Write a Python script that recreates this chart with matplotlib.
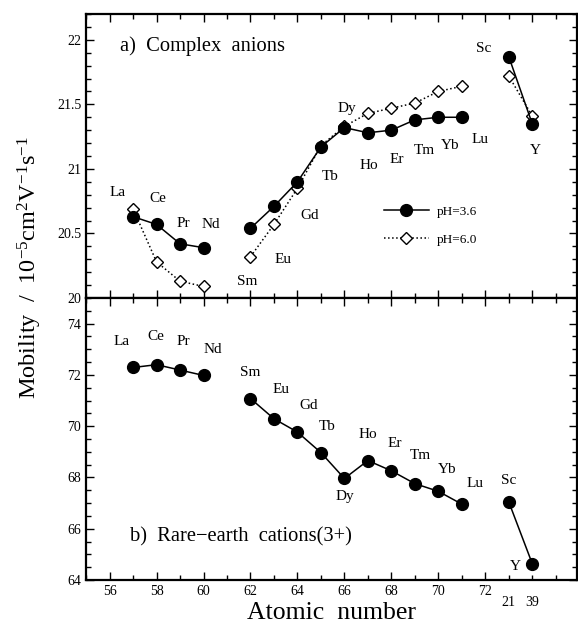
import matplotlib
matplotlib.use("Agg")
import matplotlib.pyplot as plt
from matplotlib.ticker import MultipleLocator

plt.rcParams['font.family'] = ['Liberation Serif', 'DejaVu Serif']
plt.rcParams['mathtext.fontset'] = 'stix'

# atomic-number positions (Sc and Y plotted at 73 and 74)
elements = ['La', 'Ce', 'Pr', 'Nd', 'Sm', 'Eu', 'Gd', 'Tb', 'Dy', 'Ho', 'Er', 'Tm', 'Yb', 'Lu', 'Sc', 'Y']
xpos = [57, 58, 59, 60, 62, 63, 64, 65, 66, 67, 68, 69, 70, 71, 73, 74]

# a) complex anions
ph36 = [20.63, 20.57, 20.42, 20.39, 20.54, 20.71, 20.90, 21.17, 21.32, 21.28, 21.30, 21.38, 21.40, 21.40, 21.87, 21.35]
ph60 = [20.69, 20.28, 20.13, 20.09, 20.32, 20.57, 20.85, 21.18, 21.33, 21.43, 21.47, 21.51, 21.60, 21.64, 21.72, 21.41]
# b) rare-earth cations
cations = [72.29, 72.40, 72.19, 71.98, 71.08, 70.29, 69.77, 68.97, 67.96, 68.66, 68.26, 67.76, 67.46, 66.96, 67.05, 64.64]

# groups connected by lines
groups = [(0, 4), (4, 14), (14, 16)]

# label positions per panel
lab_top = [(56.35, 20.82), (58.06, 20.77), (59.16, 20.58), (60.3, 20.57), (61.86, 20.13), (63.39, 20.30),
           (64.52, 20.64), (65.4, 20.94), (66.09, 21.47), (67.03, 21.03), (68.21, 21.07), (69.4, 21.14),
           (70.5, 21.18), (71.79, 21.23), (71.93, 21.93), (74.13, 21.14)]
lab_bot = [(56.5, 73.31), (57.96, 73.48), (59.13, 73.31), (60.41, 72.98), (62.0, 72.1), (63.31, 71.45),
           (64.48, 70.8), (65.26, 69.99), (66.01, 67.25), (67.0, 69.66), (68.13, 69.34), (69.23, 68.86),
           (70.37, 68.3), (71.55, 67.75), (73.0, 67.88), (73.28, 64.52)]

fig = plt.figure(figsize=(5.78, 6.24), dpi=100)
ax1 = fig.add_axes([0.149, 0.5224, 0.849, 0.4552])
ax2 = fig.add_axes([0.149, 0.0705, 0.849, 0.4519])

for ax in (ax1, ax2):
    ax.set_xlim(55, 75.9)
    ax.xaxis.set_major_locator(MultipleLocator(2))
    ax.xaxis.set_minor_locator(MultipleLocator(1))
    ax.tick_params(which='both', direction='in', top=True, right=True, width=1.0, labelsize=10)
    ax.tick_params(which='major', length=6)
    ax.tick_params(which='minor', length=3.5)
    for s in ax.spines.values():
        s.set_linewidth(1.6)

for i, (a, b) in enumerate(groups):
    ax1.plot(xpos[a:b], ph60[a:b], ':', color='black', lw=1.1, marker='D', ms=6,
             mfc='white', mec='black', mew=1.0, label='pH=6.0' if i == 0 else None, zorder=2)
    ax1.plot(xpos[a:b], ph36[a:b], '-', color='black', lw=1.1, marker='o', ms=8.5,
             mfc='black', mec='black', label='pH=3.6' if i == 0 else None, zorder=3)
    ax2.plot(xpos[a:b], cations[a:b], '-', color='black', lw=1.1, marker='o', ms=8.5,
             mfc='black', mec='black')

for el, (x, y) in zip(elements, lab_top):
    ax1.text(x, y, el, ha='center', va='center', fontsize=11)
for el, (x, y) in zip(elements, lab_bot):
    ax2.text(x, y, el, ha='center', va='center', fontsize=11)

ax1.set_ylim(20, 22.2)
ax1.yaxis.set_minor_locator(MultipleLocator(0.1))
ax1.set_yticks([20, 20.5, 21, 21.5, 22], ['20', '20.5', '21', '21.5', '22'])
ax1.tick_params(axis='x', labelbottom=False)
ax1.text(56.43, 21.95, 'a)  Complex  anions', ha='left', va='center', fontsize=14.8)

h, l = ax1.get_legend_handles_labels()
ax1.legend([h[1], h[0]], [l[1], l[0]], loc='center left', bbox_to_anchor=(0.607, 0.255),
           frameon=False, fontsize=9.5, handlelength=3.4, handletextpad=0.6,
           labelspacing=1.2, borderpad=0, borderaxespad=0, numpoints=1)

ax2.set_ylim(64, 75)
ax2.yaxis.set_minor_locator(MultipleLocator(0.5))
ax2.set_xticks([56, 58, 60, 62, 64, 66, 68, 70, 72])
ax2.set_yticks([64, 66, 68, 70, 72, 74])
ax2.text(56.89, 65.67, 'b)  Rare\u2212earth  cations(3+)', ha='left', va='center', fontsize=14.8)
for x, s in [(73, '21'), (74, '39')]:
    ax2.annotate(s, xy=(x, 0), xycoords=('data', 'axes fraction'), xytext=(0, -11.5),
                 textcoords='offset points', ha='center', va='top', fontsize=10)
ax2.set_xlabel('Atomic  number', fontsize=18.5, labelpad=3)

fig.text(0.052, 1 - 268 / 624,
         r'Mobility  /  $\mathregular{10^{-5}cm^{2}V^{-1}s^{-1}}$',
         rotation=90, ha='center', va='center', fontsize=17.5)

fig.savefig('out.png', dpi=100)
